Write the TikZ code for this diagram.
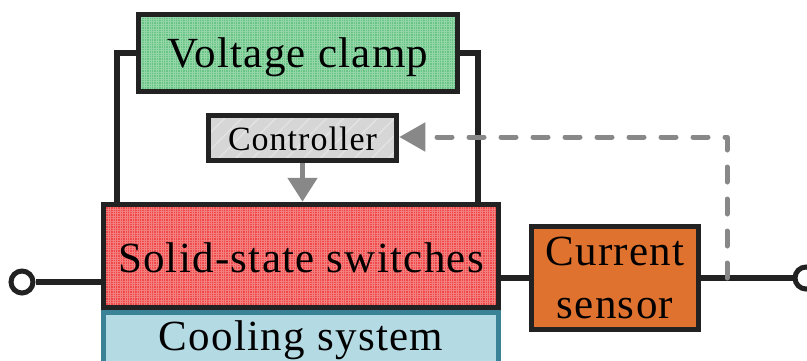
\documentclass[tikz,border=0pt]{standalone}
\usepackage{fontspec}
\setmainfont{Liberation Serif}[LetterSpace=3]
\usetikzlibrary{patterns.meta,arrows.meta}
\definecolor{clampgreen}{RGB}{104,196,132}
\definecolor{sssred}{RGB}{240,72,72}
\definecolor{ctrlgray}{RGB}{214,214,214}
\definecolor{sensororange}{RGB}{224,114,48}
\definecolor{coolblue}{RGB}{180,218,228}
\definecolor{coolborder}{RGB}{58,130,150}
\definecolor{wire}{RGB}{34,34,34}
\definecolor{sig}{RGB}{136,136,136}
\tikzset{
  box/.style={draw=wire, line width=5.5pt, inner sep=0pt, align=center},
  gridfill/.style={preaction={fill=#1}, preaction={pattern={Lines[distance=2.4pt,angle=0,line width=0.5pt]}, pattern color=#1!70!white},
     preaction={pattern={Lines[distance=2.4pt,angle=90,line width=0.5pt]}, pattern color=#1!70!white}},
  bigtext/.style={font=\fontsize{43}{52}\selectfont},
  wireline/.style={draw=wire, line width=5.5pt},
  sigline/.style={draw=sig, line width=5pt},
  terminal/.style={circle, draw=wire, line width=5pt, fill=white, minimum size=22pt, inner sep=0pt},
}
\begin{document}
\begin{tikzpicture}[x=1pt,y=-1pt]
\useasboundingbox (0,0) rectangle (807,360);
\clip (0,0) rectangle (807,360);
% cooling system (extends below)
\node[box, draw=coolborder, fill=coolblue, minimum width=395pt, minimum height=66pt, anchor=north] (cool) at (301,309) {};
\node[bigtext, anchor=base] (cooltxt) at (301,350) {Cooling system};
% solid-state switches
\node[box, gridfill=sssred, minimum width=395pt, minimum height=103pt] (sss) at (301,256) {};
\node[bigtext, anchor=base] (ssstxt) at (301,272) {Solid-state switches};
% voltage clamp
\node[box, gridfill=clampgreen, minimum width=319pt, minimum height=77pt] (clamp) at (298,53) {};
\node[bigtext, anchor=base] (clamptxt) at (298,67) {Voltage clamp};
% controller
\node[box, preaction={fill=ctrlgray}, preaction={pattern={Lines[distance=12pt,angle=45,line width=1.5pt]}, pattern color=ctrlgray!70!white}, minimum width=188pt, minimum height=45pt] (ctrl) at (302.5,138) {};
\node[font=\fontsize{34}{40}\selectfont, anchor=base] (ctrltxt) at (302.5,150) {Controller};
% current sensor
\node[box, fill=sensororange, minimum width=167pt, minimum height=103pt] (sensor) at (615,278) {};
\node[bigtext, anchor=base] (sensortxt1) at (615,265) {Current};
\node[bigtext, anchor=base] (sensortxt2) at (615,318) {sensor};
% terminals
\node[terminal] (tl) at (22,282) {};
\node[terminal] (tr) at (806,278) {};
% wires
\draw[wireline] (tl) -- (tl -| sss.west);
\draw[wireline] (sss.east |- sensor.west) -- (sensor.west);
\draw[wireline] (sensor.east) -- (tr);
\coordinate (cl) at (117,53);
\coordinate (cr) at (478,53);
\draw[wireline] (clamp.west |- cl) -- (cl) -- (cl |- sss.north);
\draw[wireline] (clamp.east |- cr) -- (cr) -- (cr |- sss.north);
% signal arrows
\draw[sigline, -{Triangle[length=24pt,width=29pt]}] (ctrl.south) -- (ctrl.south |- sss.north);
\coordinate (tap) at (727,278);
\coordinate (corner) at (727,137);
\draw[sigline, line cap=round, line join=round, dash pattern=on 15pt off 17pt, -{Triangle[length=26pt,width=28pt]}] (tap) -- (corner) -- (corner -| ctrl.east);
\end{tikzpicture}
\end{document}
